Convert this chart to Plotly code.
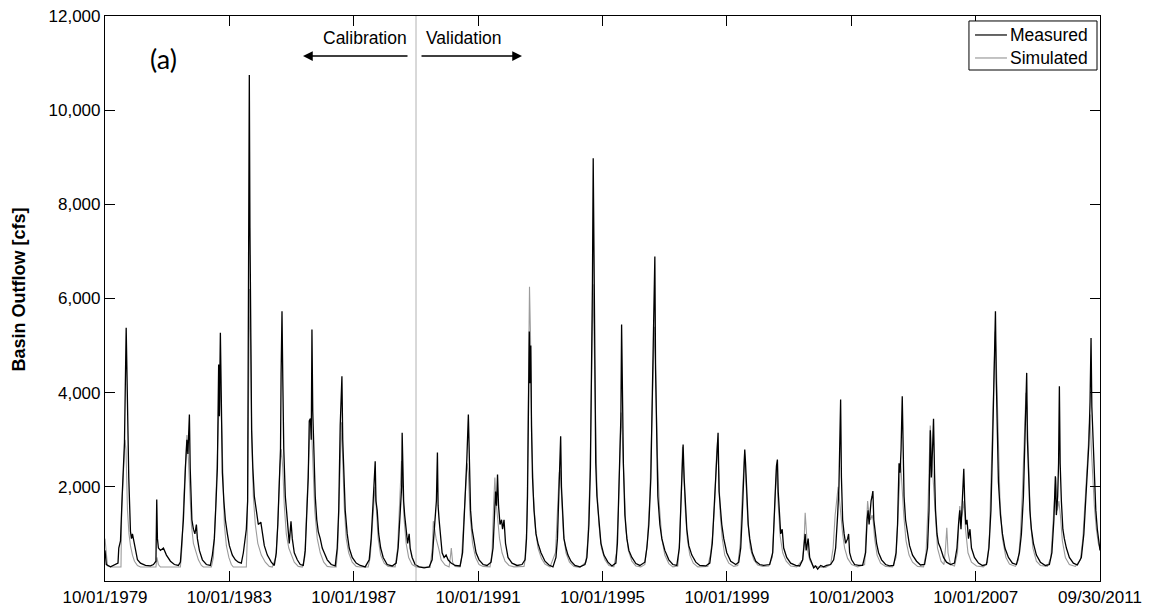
import numpy as np
import pandas as pd
import plotly.graph_objects as go

# ---------------- data ----------------
# time given as decimal years (1979.75 = 10/01/1979)
meas_year = [1979.750,1979.792,1979.927,1980.055,1980.168,1980.193,1980.248,1980.302,1980.376,1980.431,1980.463,1980.514,1980.569,1980.601,1980.633,1980.681,1980.730,1980.794,1980.890,1981.051,1981.211,1981.308,1981.388,1981.414,1981.436,1981.468,1981.533,1981.629,1981.725,1981.854,1981.982,1982.111,1982.175,1982.223,1982.271,1982.336,1982.384,1982.416,1982.464,1982.490,1982.512,1982.544,1982.593,1982.641,1982.689,1982.721,1982.785,1982.882,1983.010,1983.139,1983.203,1983.267,1983.315,1983.364,1983.405,1983.428,1983.460,1983.486,1983.524,1983.572,1983.620,1983.685,1983.749,1983.845,1983.942,1984.038,1984.134,1984.199,1984.247,1984.295,1984.337,1984.369,1984.391,1984.411,1984.433,1984.465,1984.504,1984.552,1984.616,1984.680,1984.761,1984.809,1984.873,1984.970,1985.098,1985.194,1985.259,1985.307,1985.355,1985.394,1985.413,1985.442,1985.467,1985.499,1985.548,1985.612,1985.676,1985.731,1985.773,1985.837,1985.933,1986.029,1986.126,1986.190,1986.238,1986.286,1986.319,1986.357,1986.383,1986.405,1986.431,1986.463,1986.511,1986.559,1986.608,1986.672,1986.736,1986.800,1986.897,1987.025,1987.154,1987.218,1987.266,1987.314,1987.340,1987.369,1987.395,1987.427,1987.475,1987.539,1987.603,1987.700,1987.828,1987.957,1988.117,1988.246,1988.310,1988.374,1988.413,1988.439,1988.464,1988.503,1988.551,1988.615,1988.696,1988.824,1988.985,1989.113,1989.177,1989.225,1989.267,1989.290,1989.306,1989.328,1989.354,1989.386,1989.434,1989.482,1989.531,1989.563,1989.627,1989.723,1989.852,1990.012,1990.173,1990.270,1990.318,1990.366,1990.407,1990.440,1990.462,1990.494,1990.542,1990.591,1990.655,1990.719,1990.783,1990.880,1991.008,1991.169,1991.249,1991.297,1991.345,1991.387,1991.435,1991.467,1991.506,1991.554,1991.618,1991.683,1991.779,1991.908,1992.036,1992.164,1992.229,1992.277,1992.309,1992.341,1992.373,1992.405,1992.453,1992.502,1992.534,1992.582,1992.630,1992.710,1992.839,1993.000,1993.160,1993.257,1993.305,1993.337,1993.363,1993.395,1993.417,1993.443,1993.465,1993.498,1993.546,1993.610,1993.674,1993.770,1993.899,1994.027,1994.156,1994.252,1994.300,1994.349,1994.381,1994.403,1994.429,1994.461,1994.509,1994.573,1994.638,1994.734,1994.862,1995.023,1995.184,1995.248,1995.312,1995.360,1995.402,1995.425,1995.450,1995.473,1995.498,1995.531,1995.569,1995.633,1995.698,1995.794,1995.923,1996.051,1996.179,1996.228,1996.276,1996.314,1996.340,1996.363,1996.388,1996.420,1996.468,1996.533,1996.597,1996.693,1996.822,1996.950,1997.111,1997.175,1997.239,1997.304,1997.352,1997.394,1997.432,1997.455,1997.480,1997.528,1997.593,1997.657,1997.753,1997.882,1998.010,1998.139,1998.219,1998.267,1998.309,1998.341,1998.373,1998.412,1998.460,1998.524,1998.621,1998.749,1998.877,1999.070,1999.199,1999.279,1999.343,1999.391,1999.433,1999.465,1999.497,1999.536,1999.584,1999.648,1999.745,1999.873,2000.034,2000.130,2000.194,2000.243,2000.291,2000.323,2000.349,2000.387,2000.435,2000.484,2000.564,2000.677,2000.805,2000.933,2001.126,2001.223,2001.271,2001.312,2001.344,2001.373,2001.399,2001.431,2001.479,2001.527,2001.575,2001.672,2001.800,2001.961,2002.089,2002.186,2002.234,2002.266,2002.298,2002.330,2002.362,2002.411,2002.475,2002.539,2002.604,2002.668,2002.764,2002.861,2002.957,2003.085,2003.182,2003.246,2003.310,2003.352,2003.381,2003.406,2003.432,2003.471,2003.519,2003.567,2003.631,2003.663,2003.696,2003.760,2003.856,2003.985,2004.113,2004.210,2004.258,2004.290,2004.322,2004.354,2004.386,2004.418,2004.444,2004.473,2004.515,2004.563,2004.627,2004.724,2004.852,2004.980,2005.109,2005.189,2005.237,2005.285,2005.318,2005.350,2005.388,2005.414,2005.446,2005.494,2005.558,2005.623,2005.719,2005.848,2005.976,2006.105,2006.201,2006.249,2006.291,2006.323,2006.362,2006.394,2006.426,2006.458,2006.506,2006.554,2006.618,2006.715,2006.811,2006.940,2007.068,2007.148,2007.197,2007.238,2007.277,2007.325,2007.367,2007.396,2007.431,2007.470,2007.518,2007.566,2007.614,2007.710,2007.839,2007.967,2008.096,2008.176,2008.240,2008.289,2008.330,2008.359,2008.385,2008.411,2008.443,2008.481,2008.546,2008.610,2008.690,2008.803,2008.931,2009.060,2009.156,2009.220,2009.285,2009.333,2009.365,2009.390,2009.413,2009.445,2009.493,2009.541,2009.606,2009.702,2009.831,2009.991,2010.120,2010.200,2010.264,2010.312,2010.344,2010.386,2010.415,2010.441,2010.466,2010.505,2010.553,2010.601,2010.666,2010.762,2010.891,2011.019,2011.147,2011.228,2011.292,2011.340,2011.388,2011.427,2011.459,2011.485,2011.517,2011.565,2011.613,2011.661,2011.709,2011.747]
meas_cfs = [650,350,300,340,380,700,850,1800,2940,5380,3710,2200,1050,900,1000,850,650,450,380,330,320,350,420,1733,900,700,650,700,550,420,350,330,400,800,1300,2400,3000,2700,3535,2400,1800,1300,1100,1000,1200,900,650,450,350,330,550,900,1600,2400,4600,3500,5270,3800,2300,1700,1300,1000,750,550,450,400,380,600,900,1100,1700,8000,10745,7500,5500,3200,2400,1800,1500,1200,1250,1000,750,550,400,330,600,1200,2000,2800,4400,5727,4300,2800,1800,1200,800,1270,900,600,450,350,330,650,1300,2200,3400,3450,3000,5340,3600,2700,1800,1300,1050,900,700,600,450,350,320,700,1500,3300,3900,4350,3000,2200,1500,1000,700,500,380,330,300,450,900,1700,2100,2545,1700,1500,1000,700,500,350,320,380,700,1200,1800,2000,3150,2000,1700,1400,1100,800,1000,700,500,350,300,280,300,450,900,1300,1700,2730,1600,1300,900,600,500,550,450,380,330,320,600,1200,2000,2600,3535,2300,1500,1100,800,600,450,350,330,400,700,1500,1900,1600,2260,1600,1200,1300,1100,1300,800,500,380,330,350,450,900,1800,3500,5300,4200,5000,3300,2200,1500,1000,800,600,420,340,300,500,900,1800,2500,3075,2000,1400,900,700,550,420,330,300,350,500,1200,2400,4500,6300,8980,6450,3800,2500,1800,1200,800,550,400,320,380,800,1800,3000,3500,5445,3300,2500,1400,900,650,500,370,330,400,700,1200,2200,4000,5300,6893,4500,3200,1800,1200,900,650,450,350,330,700,1500,2500,2900,2200,1600,1100,750,550,400,330,320,380,800,1600,2400,2900,3147,1900,1600,1200,900,600,420,350,400,700,1400,2300,2793,2500,1800,1200,900,600,420,350,330,350,600,1200,2000,2450,2581,1900,1400,1000,1100,700,500,380,330,320,450,900,1000,650,800,900,500,380,280,320,250,330,300,330,350,450,700,1400,2000,3000,3854,2200,1300,1000,800,900,1000,600,450,350,330,330,600,1300,1500,1200,1600,1700,1800,1909,1300,1000,800,600,450,350,320,330,600,1200,2500,2300,2800,3924,2700,1800,1300,1000,750,550,420,340,350,700,1500,3200,2200,2800,3444,2300,1500,1000,800,700,500,400,350,380,700,1200,1500,1100,1700,2384,1700,1200,1300,900,1100,700,500,380,330,350,700,1500,2800,4000,5000,5727,4300,3000,2100,1400,1000,700,500,380,350,600,1000,1800,2800,3500,4420,3000,2300,1500,1100,800,550,400,330,350,600,1300,2227,1400,1800,2500,4136,2500,1700,1100,900,700,500,380,340,500,1000,1800,2600,2900,3800,5163,3700,3100,2200,1500,1100,800,650]

sim_year = [1979.750,1979.782,1979.830,1979.927,1980.264,1980.286,1980.328,1980.392,1980.425,1980.473,1980.521,1980.569,1980.633,1980.698,1980.794,1980.890,1981.388,1981.420,1981.468,1981.533,1982.175,1982.223,1982.287,1982.352,1982.384,1982.432,1982.480,1982.528,1982.593,1982.673,1982.753,1982.850,1982.914,1983.171,1983.235,1983.299,1983.347,1983.396,1983.444,1983.492,1983.540,1983.588,1983.653,1983.733,1983.813,1983.877,1984.295,1984.321,1984.353,1984.398,1984.433,1984.472,1984.520,1984.584,1984.664,1984.777,1984.905,1985.034,1985.130,1985.243,1985.307,1985.371,1985.419,1985.467,1985.516,1985.580,1985.660,1985.741,1985.837,1985.965,1986.094,1986.174,1986.238,1986.302,1986.351,1986.389,1986.431,1986.495,1986.576,1986.672,1986.784,1986.897,1987.025,1987.186,1987.234,1987.282,1987.330,1987.353,1987.395,1987.443,1987.507,1987.587,1987.700,1987.828,1987.957,1988.214,1988.278,1988.342,1988.400,1988.432,1988.480,1988.535,1988.615,1988.728,1988.856,1989.081,1989.161,1989.225,1989.267,1989.284,1989.322,1989.370,1989.434,1989.515,1989.627,1989.756,1990.205,1990.276,1990.308,1990.350,1990.398,1990.478,1990.559,1990.687,1990.816,1990.864,1990.886,1990.928,1991.008,1991.169,1991.217,1991.281,1991.345,1991.394,1991.435,1991.490,1991.570,1991.667,1991.779,1991.908,1992.132,1992.197,1992.245,1992.287,1992.325,1992.373,1992.437,1992.518,1992.614,1992.743,1992.903,1993.225,1993.273,1993.321,1993.363,1993.401,1993.433,1993.475,1993.529,1993.594,1993.674,1993.786,1993.899,1994.060,1994.236,1994.300,1994.358,1994.391,1994.439,1994.493,1994.573,1994.686,1994.830,1995.023,1995.216,1995.280,1995.344,1995.402,1995.447,1995.489,1995.521,1995.569,1995.633,1995.714,1995.826,1995.955,1996.115,1996.196,1996.260,1996.308,1996.346,1996.388,1996.436,1996.501,1996.581,1996.693,1996.822,1996.982,1997.111,1997.191,1997.272,1997.336,1997.384,1997.416,1997.458,1997.512,1997.577,1997.657,1997.753,1997.882,1998.010,1998.171,1998.235,1998.283,1998.322,1998.364,1998.412,1998.476,1998.557,1998.669,1998.813,1999.135,1999.231,1999.295,1999.360,1999.417,1999.446,1999.488,1999.536,1999.600,1999.680,1999.809,1999.969,2000.098,2000.178,2000.243,2000.291,2000.316,2000.355,2000.419,2000.500,2000.612,2000.741,2000.901,2001.094,2001.207,2001.271,2001.319,2001.344,2001.393,2001.463,2001.544,2001.656,2001.800,2001.994,2002.186,2002.234,2002.266,2002.298,2002.346,2002.411,2002.507,2002.668,2002.925,2003.085,2003.165,2003.230,2003.278,2003.326,2003.374,2003.422,2003.471,2003.535,2003.631,2003.760,2003.953,2004.178,2004.226,2004.274,2004.322,2004.370,2004.418,2004.451,2004.499,2004.579,2004.692,2004.852,2005.076,2005.189,2005.253,2005.302,2005.334,2005.382,2005.436,2005.510,2005.607,2005.719,2005.880,2006.073,2006.153,2006.217,2006.265,2006.288,2006.330,2006.378,2006.442,2006.522,2006.635,2006.731,2006.779,2006.821,2006.860,2006.940,2007.068,2007.165,2007.213,2007.238,2007.277,2007.325,2007.374,2007.422,2007.502,2007.614,2007.776,2008.001,2008.129,2008.193,2008.258,2008.322,2008.377,2008.419,2008.467,2008.531,2008.610,2008.722,2008.835,2009.028,2009.124,2009.189,2009.253,2009.317,2009.365,2009.397,2009.445,2009.510,2009.590,2009.702,2009.831,2010.055,2010.168,2010.232,2010.286,2010.328,2010.376,2010.425,2010.473,2010.537,2010.634,2010.762,2010.955,2011.116,2011.196,2011.276,2011.340,2011.388,2011.427,2011.469,2011.517,2011.565,2011.630,2011.694,2011.747]
sim_cfs = [900,600,320,297,297,1500,2000,3000,2800,1500,1000,750,550,420,330,297,297,500,350,297,297,700,1800,2900,3100,2600,1800,1200,800,600,450,330,297,297,500,1400,2500,3500,4300,3500,2000,1200,750,500,350,297,297,800,3000,6200,5000,3000,1800,1200,800,550,400,310,297,500,1200,2400,2800,2400,1600,1000,700,550,400,310,297,500,1500,2800,3400,3300,2500,1500,900,600,400,310,297,300,700,1800,3000,3370,2600,1600,900,600,400,310,297,300,500,1100,1800,2000,1500,900,550,380,310,300,700,1700,2400,2550,2000,1300,800,500,350,300,290,700,1270,1100,900,700,450,340,300,550,700,400,310,300,500,1200,2000,2500,2300,1400,800,500,350,310,300,600,1600,2200,1700,1300,900,600,420,330,300,310,500,1300,3500,6250,5200,3000,1800,1100,700,480,360,300,600,1400,2300,2350,1700,1000,600,400,310,290,400,900,2200,4500,6300,4800,3300,2000,1200,700,450,330,300,600,1500,2600,3578,3000,2000,1100,650,420,320,300,350,800,1800,3500,4800,5400,4500,2700,1600,900,550,370,300,320,900,1800,2850,2300,1500,900,550,380,300,310,600,1000,1700,2700,2950,2300,1400,900,550,380,310,330,800,1800,2600,2700,2200,1300,700,450,340,310,320,500,1300,2200,2450,1700,950,600,420,320,300,450,900,1450,1000,650,450,330,300,290,350,700,1400,1800,2000,1700,1300,1000,700,480,350,300,350,1000,1700,1400,1300,1400,1300,900,550,380,310,300,500,1400,2300,2545,2000,1400,850,550,400,310,300,600,1600,3000,3300,2700,2200,1300,700,420,350,700,1130,600,350,320,600,1300,1590,1300,1450,1700,1100,600,400,320,300,400,1000,2500,4300,5300,4500,3000,1700,900,500,360,310,450,1000,1900,3200,4000,3700,2500,1300,700,420,330,310,500,1200,1800,2200,1500,1700,1400,850,500,350,310,450,900,1700,2500,3100,3535,2800,2100,1600,1100,800,700]

x_tick_dates = ["1979-10-01", "1983-10-01", "1987-10-01", "1991-10-01",
                "1995-10-01", "1999-10-01", "2003-10-01", "2007-10-01", "2011-09-30"]
x_tick_labels = ["10/01/1979", "10/01/1983", "10/01/1987", "10/01/1991",
                 "10/01/1995", "10/01/1999", "10/01/2003", "10/01/2007", "09/30/2011"]
y_tick_vals = [2000, 4000, 6000, 8000, 10000, 12000]
y_tick_labels = ["2,000", "4,000", "6,000", "8,000", "10,000", "12,000"]
split_date = "1989-10-01"
series_names = ["Measured", "Simulated"]

assert len(meas_year) == len(meas_cfs)
assert len(sim_year) == len(sim_cfs)

base = pd.Timestamp("1979-10-01")


def to_dates(years):
    return base + pd.to_timedelta((np.asarray(years) - 1979.75) * 365.25, unit="D")


meas_x = to_dates(meas_year)
sim_x = to_dates(sim_year)

FONT = "Liberation Sans, Arial, sans-serif"
MEAS_COLOR = "black"
SIM_COLOR = "rgb(155,155,155)"

fig = go.Figure()
fig.add_trace(go.Scatter(x=sim_x, y=sim_cfs, mode="lines", name=series_names[1],
                         line=dict(color=SIM_COLOR, width=1.1), showlegend=False))
fig.add_trace(go.Scatter(x=meas_x, y=meas_cfs, mode="lines", name=series_names[0],
                         line=dict(color=MEAS_COLOR, width=1.3), showlegend=False))

# calibration / validation split
fig.add_shape(type="line", x0=split_date, x1=split_date, xref="x", yref="paper",
              y0=0, y1=1, line=dict(color="rgb(160,160,160)", width=0.8))

# text annotations
fig.add_annotation(text="Calibration", xref="paper", yref="paper", x=0.2612, y=0.961,
                   xanchor="center", yanchor="middle", showarrow=False,
                   font=dict(size=17.5, color="black", family=FONT))
fig.add_annotation(text="Validation", xref="paper", yref="paper", x=0.361, y=0.961,
                   xanchor="center", yanchor="middle", showarrow=False,
                   font=dict(size=17.5, color="black", family=FONT))
fig.add_annotation(text="", xref="paper", yref="paper", x=0.199, y=0.929,
                   ax=106, ay=0, showarrow=True, arrowhead=2, arrowsize=1.3,
                   arrowwidth=1.5, arrowcolor="black")
fig.add_annotation(text="", xref="paper", yref="paper", x=0.4191, y=0.929,
                   ax=-102, ay=0, showarrow=True, arrowhead=2, arrowsize=1.3,
                   arrowwidth=1.5, arrowcolor="black")
fig.add_annotation(text="(a)", xref="paper", yref="paper", x=0.0583, y=0.924,
                   xanchor="center", yanchor="middle", showarrow=False,
                   font=dict(size=27, color="black", family="Lato, Open Sans, sans-serif"))

# y-axis title placed like the reference
fig.add_annotation(text="<b>Basin Outflow [cfs]</b>", xref="paper", yref="paper",
                   x=-0.0864, y=0.516, xanchor="center", yanchor="middle",
                   textangle=-90, showarrow=False,
                   font=dict(size=18, color="black", family=FONT))

# legend box (drawn to match the reference's compact legend)
lx0, lx1, ly0, ly1 = 0.8683, 0.9970, 0.9044, 0.9912
fig.add_shape(type="rect", xref="paper", yref="paper", x0=lx0, x1=lx1, y0=ly0, y1=ly1,
              line=dict(color="black", width=1), fillcolor="white", layer="above")
legend_rows = [(series_names[0], MEAS_COLOR, 0.9664), (series_names[1], SIM_COLOR, 0.9257)]
for name, col, yy in legend_rows:
    fig.add_shape(type="line", xref="paper", yref="paper", x0=0.8744, x1=0.9065, y0=yy, y1=yy,
                  line=dict(color=col, width=1.2), layer="above")
    fig.add_annotation(text=name, xref="paper", yref="paper", x=0.9080, y=yy,
                       xanchor="left", yanchor="middle", showarrow=False,
                       font=dict(size=17.5, color="black", family=FONT))

fig.update_layout(
    width=1155, height=607,
    margin=dict(l=105, r=55, t=16, b=26),
    paper_bgcolor="white", plot_bgcolor="white",
    font=dict(family=FONT, size=17, color="black"),
    showlegend=False,
)
fig.update_xaxes(
    range=["1979-10-01", "2011-09-30"], type="date",
    tickmode="array", tickvals=x_tick_dates, ticktext=x_tick_labels,
    ticks="inside", ticklen=10, tickcolor="black", tickwidth=1,
    showline=True, linecolor="black", linewidth=1.2, mirror="ticks",
    showgrid=False, zeroline=False, automargin=False,
    tickfont=dict(size=17, family=FONT),
)
fig.update_yaxes(
    range=[0, 12000],
    tickmode="array", tickvals=y_tick_vals, ticktext=y_tick_labels,
    ticks="inside", ticklen=10, tickcolor="black", tickwidth=1,
    showline=True, linecolor="black", linewidth=1.2, mirror="ticks",
    showgrid=False, zeroline=False, automargin=False,
    tickfont=dict(size=17, family=FONT),
)

fig.write_html("out.html")
